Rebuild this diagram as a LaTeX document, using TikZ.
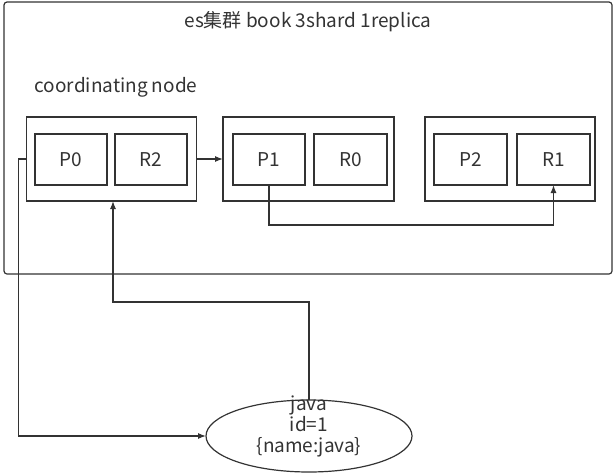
\documentclass[tikz,border=0pt]{standalone}
\usepackage{fontspec}
\setmainfont{Noto Sans CJK SC}
\usetikzlibrary{arrows.meta,shapes.geometric}
\definecolor{linec}{HTML}{333333}
\begin{document}
\begin{tikzpicture}[x=1pt,y=-1pt,
  every node/.style={font=\fontsize{19}{21}\selectfont, text=linec},
  group/.style={draw=linec, line width=1.2pt, minimum width=170pt, minimum height=84pt, inner sep=0pt, outer sep=0pt},
  shard/.style={draw=linec, line width=1.2pt, minimum width=72pt, minimum height=51pt, inner sep=0pt, outer sep=0pt},
  arr/.style={draw=linec, line width=1.2pt, -{Latex[length=8pt,width=6pt]}}]
\useasboundingbox (0,0) rectangle (616,474);
\node[draw=linec, line width=1.2pt, rounded corners=3pt, minimum width=608pt, minimum height=272pt, inner sep=0pt, outer sep=0pt] (cluster) at (308,138) {};
\node (title) at (308,22) {es集群 book 3shard 1replica};
\node (coord) at (116,87) {coordinating node};
\node[group] (g1) at (111.5,159) {};
\node[group, minimum width=171pt] (g2) at (308.5,159) {};
\node[group] (g3) at (510,159) {};
\node[shard] (p0) at (71,159.5) {P0};
\node[shard] (r2) at (151,159.5) {R2};
\node[shard] (p1) at (269,159.5) {P1};
\node[shard, minimum width=73pt] (r0) at (350.5,159.5) {R0};
\node[shard, minimum width=73pt] (p2) at (470.5,159.5) {P2};
\node[shard, minimum width=73pt] (r1) at (553.5,159.5) {R1};
\node[draw=linec, line width=1.2pt, ellipse, minimum width=206pt, minimum height=72pt, inner sep=0pt, outer sep=0pt] (req) at (309,436) {};
\node[align=center, inner sep=0pt] (reqtext) at (309,426) {java\\id=1\\\{name:java\}};
\draw[arr] (g1.east) -- (g2.west);
\draw[arr] (p1.south) -- ++(0,40) -| (r1.south);
\draw[arr] (g1.west) -- ++(-8,0) |- (req.west);
\draw[arr] (req.north) -- (req.north |- 0,302) -| ([xshift=1.5pt]g1.south);
\end{tikzpicture}
\end{document}
